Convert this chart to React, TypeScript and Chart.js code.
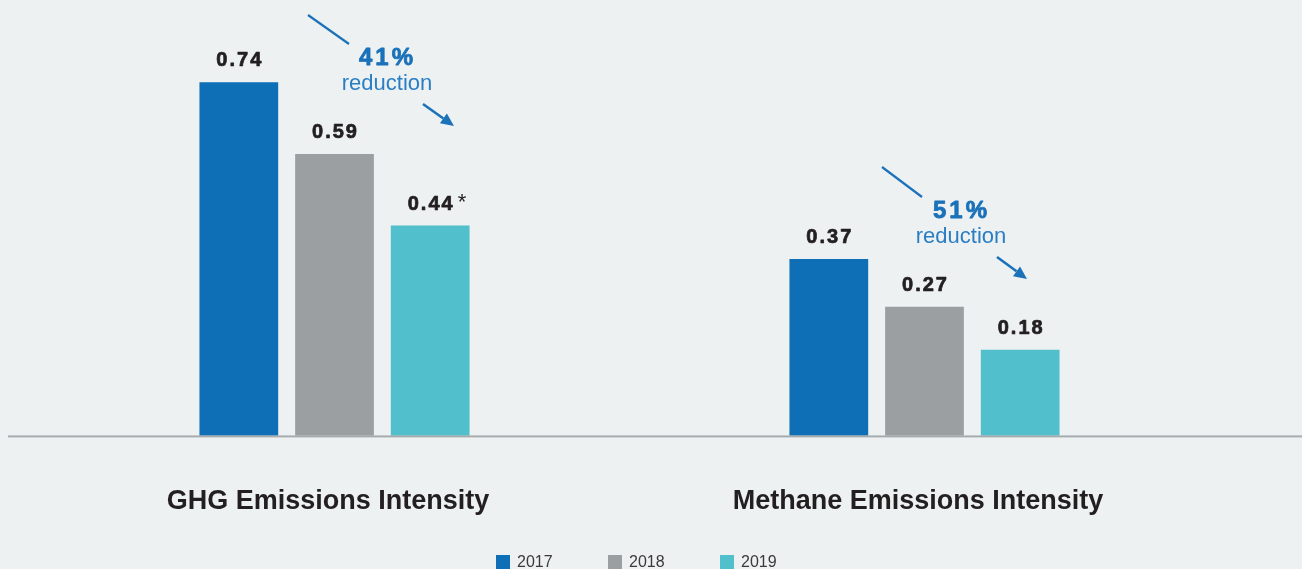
import React, { useEffect, useRef } from "react";
import { Chart, registerables } from "chart.js";

Chart.register(...registerables);

// ---- data ----
const CATEGORIES = ["GHG Emissions Intensity", "Methane Emissions Intensity"];
const YEARS = ["2017", "2018", "2019"];
const VALUES_2017 = [0.74, 0.37];
const VALUES_2018 = [0.59, 0.27];
const VALUES_2019 = [0.44, 0.18];
const NOTES_2019 = ["*", ""];
const REDUCTIONS = ["41%", "51%"];
const REDUCTION_WORD = "reduction";

// ---- styling ----
const BG = "#EDF1F2";
const COLORS = ["#0E6EB6", "#9B9FA2", "#51BFCC"];
const TEXT_DARK = "#231F20";
const ACCENT = "#1B72B9";
const FONT = '"Liberation Sans", Arial, Helvetica, sans-serif';

// Placement of the reduction call-outs (pixels), one per category
const CALLOUTS = [
  { cx: 386, pctY: 65, wordY: 90, line: [308, 15, 349, 44], arrow: [423, 104, 454, 126] },
  { cx: 960, pctY: 218, wordY: 243, line: [882, 167, 922, 197], arrow: [997, 257, 1027, 279] },
];

const LEGEND = { x: 496, y: 555, step: 112, box: 14 };

function drawArrow(ctx: CanvasRenderingContext2D, x1: number, y1: number, x2: number, y2: number) {
  const ang = Math.atan2(y2 - y1, x2 - x1);
  const headLen = 13;
  const headW = 6;
  const bx = x2 - headLen * Math.cos(ang);
  const by = y2 - headLen * Math.sin(ang);
  ctx.beginPath();
  ctx.lineWidth = 2.6;
  ctx.moveTo(x1, y1);
  ctx.lineTo(bx, by);
  ctx.stroke();
  ctx.beginPath();
  ctx.moveTo(x2, y2);
  ctx.lineTo(bx + headW * Math.sin(ang), by - headW * Math.cos(ang));
  ctx.lineTo(bx - headW * Math.sin(ang), by + headW * Math.cos(ang));
  ctx.closePath();
  ctx.fill();
}

// heavy text: fill plus a thin outline in the same colour
function heavyText(ctx: CanvasRenderingContext2D, text: string, x: number, y: number, color: string, weight: number) {
  ctx.fillStyle = color;
  ctx.strokeStyle = color;
  ctx.lineWidth = weight;
  ctx.lineJoin = "round";
  ctx.fillText(text, x, y);
  ctx.strokeText(text, x, y);
}

const decorations = {
  id: "decorations",
  afterDatasetsDraw(chart: any) {
    const ctx: CanvasRenderingContext2D = chart.ctx;
    const yScale = chart.scales.y;
    const base = yScale.getPixelForValue(0);

    ctx.save();
    // baseline rule across the full width
    ctx.fillStyle = "#9A9FA1";
    ctx.fillRect(8, base - 0.3, chart.width - 8, 1.4);
    ctx.fillStyle = "#C9CED0";
    ctx.fillRect(8, base + 1.1, chart.width - 8, 0.9);

    // value labels above the bars
    chart.data.datasets.forEach((ds: any, di: number) => {
      const meta = chart.getDatasetMeta(di);
      meta.data.forEach((bar: any, i: number) => {
        const v = ds.data[i] as number;
        const text = v.toFixed(2);
        ctx.font = `bold 20px ${FONT}`;
        (ctx as any).letterSpacing = "2px";
        ctx.textAlign = "left";
        ctx.textBaseline = "alphabetic";
        const w = ctx.measureText(text).width - 2;
        const x0 = bar.x - w / 2;
        const y0 = bar.y - 16;
        heavyText(ctx, text, x0, y0, TEXT_DARK, 0.7);
        const note = ds.notes ? ds.notes[i] : "";
        if (note) {
          (ctx as any).letterSpacing = "0px";
          ctx.font = `22px ${FONT}`;
          ctx.fillText(note, x0 + w + 5, y0 - 1);
        }
      });
    });
    (ctx as any).letterSpacing = "0px";

    // reduction call-outs
    ctx.lineCap = "butt";
    CALLOUTS.forEach((c, i) => {
      ctx.strokeStyle = ACCENT;
      ctx.fillStyle = ACCENT;
      ctx.beginPath();
      ctx.lineWidth = 2.2;
      ctx.moveTo(c.line[0], c.line[1]);
      ctx.lineTo(c.line[2], c.line[3]);
      ctx.stroke();
      drawArrow(ctx, c.arrow[0], c.arrow[1], c.arrow[2], c.arrow[3]);

      ctx.textAlign = "left";
      ctx.textBaseline = "alphabetic";
      ctx.font = `bold 24px ${FONT}`;
      (ctx as any).letterSpacing = "3px";
      const pw = ctx.measureText(REDUCTIONS[i]).width - 3;
      heavyText(ctx, REDUCTIONS[i], c.cx - pw / 2, c.pctY, ACCENT, 0.8);
      (ctx as any).letterSpacing = "0px";
      ctx.font = `22px ${FONT}`;
      ctx.fillStyle = "#2A7EC3";
      ctx.textAlign = "center";
      ctx.fillText(REDUCTION_WORD, c.cx + 1, c.wordY);
    });

    // legend
    ctx.textAlign = "left";
    ctx.textBaseline = "alphabetic";
    ctx.font = `16px ${FONT}`;
    chart.data.datasets.forEach((ds: any, di: number) => {
      const x = LEGEND.x + di * LEGEND.step;
      ctx.fillStyle = ds.backgroundColor;
      ctx.fillRect(x, LEGEND.y, LEGEND.box, LEGEND.box);
      ctx.fillStyle = "#3A3A3A";
      ctx.fillText(ds.label, x + 21, LEGEND.y + 12);
    });
    ctx.restore();
  },
};

export default function App() {
  const canvasRef = useRef<HTMLCanvasElement | null>(null);

  useEffect(() => {
    const canvas = canvasRef.current;
    if (!canvas) return;
    const series = [VALUES_2017, VALUES_2018, VALUES_2019];
    const chart = new Chart(canvas, {
      type: "bar",
      data: {
        labels: CATEGORIES,
        datasets: series.map((vals, i) => ({
          label: YEARS[i],
          data: vals,
          backgroundColor: COLORS[i],
          borderWidth: 0,
          barPercentage: 0.823,
          categoryPercentage: 0.4865,
          notes: i === 2 ? NOTES_2019 : undefined,
        })) as any,
      },
      options: {
        responsive: false,
        animation: false,
        devicePixelRatio: 1,
        layout: { padding: { top: 29.7, left: 39.5, right: 82.5, bottom: 0.8 } },
        plugins: {
          legend: { display: false },
          tooltip: { enabled: false },
        },
        scales: {
          y: { display: false, min: 0, max: 0.85 },
          x: {
            grid: { display: false, drawTicks: false },
            border: { display: false },
            ticks: {
              color: TEXT_DARK,
              font: { family: FONT, size: 27, weight: "bold" },
              padding: 50,
              labelOffset: -6.5,
              maxRotation: 0,
              autoSkip: false,
            },
          },
        },
      },
      plugins: [decorations],
    });
    return () => chart.destroy();
  }, []);

  return (
    <div
      style={{
        position: "absolute",
        left: 0,
        top: 0,
        width: 1302,
        height: 569,
        background: BG,
        overflow: "hidden",
      }}
    >
      <canvas ref={canvasRef} width={1302} height={569} style={{ display: "block" }} />
    </div>
  );
}
